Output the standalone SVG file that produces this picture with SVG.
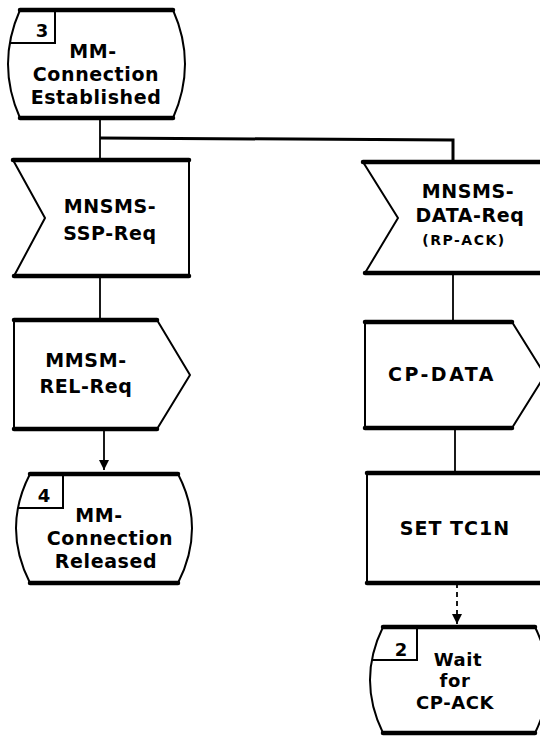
<svg xmlns="http://www.w3.org/2000/svg" width="540" height="737" viewBox="0 0 540 737">
<defs>
<style>
.shape{fill:#fff;stroke:#000;stroke-width:2;stroke-linejoin:round}
.thick{stroke:#000;stroke-width:4.5;stroke-linecap:round;fill:none}
.thin{stroke:#000;stroke-width:2;fill:none}
.conn{stroke:#000;stroke-width:1.8;fill:none}
.t{font-family:"DejaVu Sans","Liberation Sans",sans-serif;font-weight:bold;font-size:19px;letter-spacing:0.6px;fill:#000;text-anchor:middle}
.num{font-family:"DejaVu Sans","Liberation Sans",sans-serif;font-weight:bold;font-size:18px;fill:#000;text-anchor:middle}
.small{font-family:"DejaVu Sans","Liberation Sans",sans-serif;font-weight:bold;font-size:14px;fill:#000;text-anchor:middle;letter-spacing:1.5px}
</style>
<marker id="arr" viewBox="0 0 10 10" refX="10" refY="5" markerWidth="10" markerHeight="10" markerUnits="userSpaceOnUse" orient="auto">
<path d="M0,0 L10,5 L0,10 Z" fill="#000"/>
</marker>
</defs>

<g id="connectors">
<line class="conn" x1="100" y1="118" x2="100" y2="160"/>
<polyline class="conn" style="stroke-width:3" points="100,138 453,140 453,162"/>
<line class="conn" x1="100" y1="276" x2="100" y2="320"/>
<line class="conn" x1="104" y1="429" x2="104" y2="470" marker-end="url(#arr)"/>
<line class="conn" x1="453" y1="273" x2="453" y2="322"/>
<line class="conn" x1="455" y1="428" x2="455" y2="473"/>
<line class="conn" x1="457" y1="583" x2="457" y2="624" stroke-dasharray="5,4" marker-end="url(#arr)"/>
</g>

<g id="state3">
<path class="shape" d="M20,10 L173,10 Q197,64 173,118 L20,118 Q-4,64 20,10 Z"/>
<line class="thick" x1="20" y1="10" x2="173" y2="10"/>
<line class="thick" x1="20" y1="118" x2="173" y2="118"/>
<polyline class="thin" points="55,10 55,43 10,43"/>
<text class="num" x="42" y="37">3</text>
<text class="t" x="93" y="58">MM-</text>
<text class="t" x="96" y="81">Connection</text>
<text class="t" x="96" y="104">Established</text>
</g>

<g id="input-ssp">
<path class="shape" d="M13,160 L189,160 L189,276 L14,276 L45,218 Z"/>
<line class="thick" x1="13" y1="160" x2="189" y2="160"/>
<line class="thick" x1="14" y1="276" x2="189" y2="276"/>
<text class="t" x="110" y="213">MNSMS-</text>
<text class="t" x="110" y="240">SSP-Req</text>
</g>

<g id="output-rel">
<path class="shape" d="M14,320 L157,320 L190,375 L157,429 L14,429 Z"/>
<line class="thick" x1="14" y1="320" x2="157" y2="320"/>
<line class="thick" x1="14" y1="429" x2="157" y2="429"/>
<text class="t" x="86" y="367">MMSM-</text>
<text class="t" x="86" y="393">REL-Req</text>
</g>

<g id="state4">
<path class="shape" d="M30,474 L178,474 Q206,528 178,583 L30,583 Q2,528 30,474 Z"/>
<line class="thick" x1="30" y1="474" x2="178" y2="474"/>
<line class="thick" x1="30" y1="583" x2="178" y2="583"/>
<polyline class="thin" points="63,474 63,508 18,508"/>
<text class="num" x="44" y="502">4</text>
<text class="t" x="99" y="522">MM-</text>
<text class="t" x="110" y="545">Connection</text>
<text class="t" x="106" y="568">Released</text>
</g>

<g id="input-data">
<path class="shape" d="M363,162 L550,162 L550,273 L365,273 L398,218 Z"/>
<line class="thick" x1="363" y1="162" x2="550" y2="162"/>
<line class="thick" x1="365" y1="273" x2="550" y2="273"/>
<text class="t" x="468" y="198">MNSMS-</text>
<text class="t" x="470" y="222">DATA-Req</text>
<text class="small" x="464" y="245">(RP-ACK)</text>
</g>

<g id="output-cpdata">
<path class="shape" d="M365,322 L512,322 L545,375 L512,428 L365,428 Z"/>
<line class="thick" x1="365" y1="322" x2="512" y2="322"/>
<line class="thick" x1="365" y1="428" x2="512" y2="428"/>
<text class="t" x="442" y="381" style="letter-spacing:2.5px">CP-DATA</text>
</g>

<g id="task-settc1n">
<path class="shape" d="M367,473 L550,473 L550,583 L367,583 Z"/>
<line class="thick" x1="367" y1="473" x2="550" y2="473"/>
<line class="thick" x1="367" y1="583" x2="550" y2="583"/>
<text class="t" x="455" y="535" style="letter-spacing:1px">SET TC1N</text>
</g>

<g id="state2">
<path class="shape" d="M383,627 L535,627 Q561,680 535,733 L383,733 Q357,680 383,627 Z"/>
<line class="thick" x1="383" y1="627" x2="535" y2="627"/>
<line class="thick" x1="383" y1="733" x2="535" y2="733"/>
<polyline class="thin" points="417,627 417,660 372,660"/>
<text class="num" x="401" y="656">2</text>
<text class="t" x="458" y="666" style="font-size:18px">Wait</text>
<text class="t" x="455" y="687" style="font-size:18px">for</text>
<text class="t" x="455" y="709" style="font-size:18px">CP-ACK</text>
</g>
</svg>
